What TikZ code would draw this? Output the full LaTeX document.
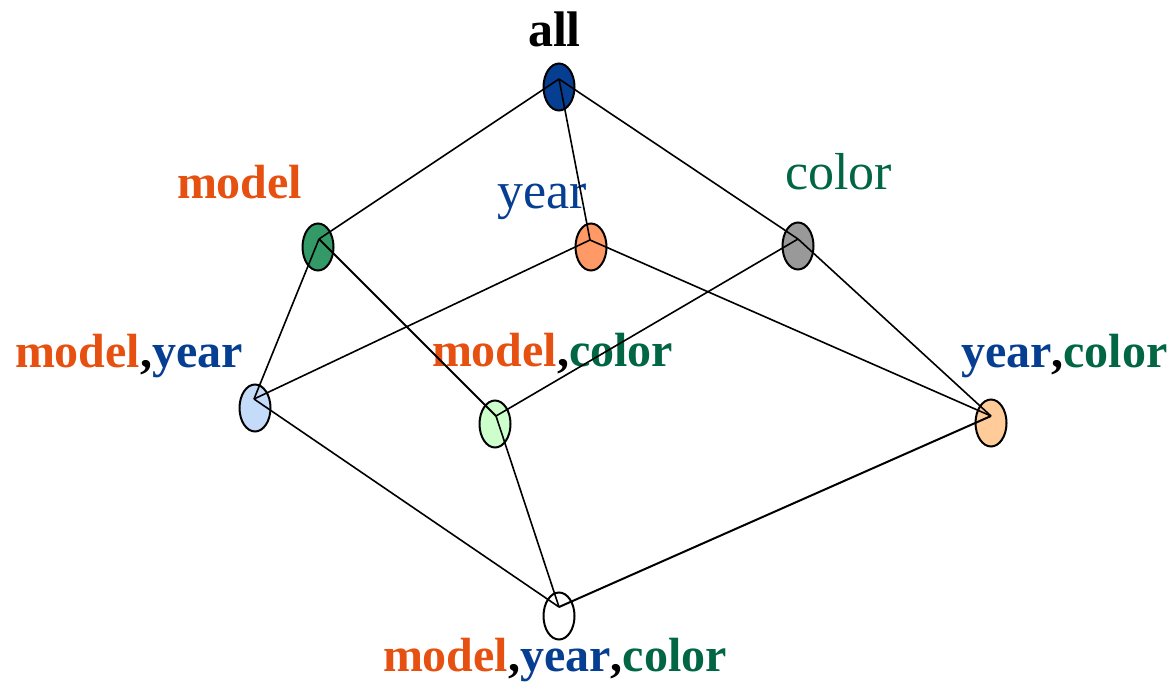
\documentclass[tikz,border=0pt]{standalone}
\usepackage{fontspec}
\setmainfont{Liberation Serif}
\usetikzlibrary{shapes.geometric}
\definecolor{txtorange}{HTML}{E65010}
\definecolor{txtblue}{HTML}{063E91}
\definecolor{txtgreen}{HTML}{006644}
\definecolor{fillall}{HTML}{063E91}
\definecolor{fillmodel}{HTML}{339966}
\definecolor{fillyear}{HTML}{FF9966}
\definecolor{fillcolor}{HTML}{999999}
\definecolor{fillmy}{HTML}{C5DBFA}
\definecolor{fillmc}{HTML}{CCFFCC}
\definecolor{fillyc}{HTML}{FFCC99}
\begin{document}
\begin{tikzpicture}[x=1pt,y=-1pt,
  cube/.style={ellipse,draw=black,line width=2pt,inner sep=0pt,
    minimum width=31pt,minimum height=47pt},
  lbl/.style={anchor=base west,inner sep=0pt,outer sep=0pt},
  bigb/.style={font=\fontsize{48}{48}\selectfont\bfseries},
  bigr/.style={font=\fontsize{52}{52}\selectfont},
  edge/.style={line width=1.6pt,black}]
\useasboundingbox (0,0) rectangle (1169,685);

% cuboid lattice nodes
\node[cube,fill=fillall]   (all) at (559,87) {};
\node[cube,fill=fillmodel] (m)   at (318,247) {};
\node[cube,fill=fillyear]  (y)   at (591,247) {};
\node[cube,fill=fillcolor] (c)   at (798,246) {};
\node[cube,fill=fillmy]    (my)  at (255,408) {};
\node[cube,fill=fillmc]    (mc)  at (495,424) {};
\node[cube,fill=fillyc]    (yc)  at (991,423) {};
\node[cube,fill=white]     (myc) at (559,616) {};

% meeting points of the edges inside each node
\coordinate (allj) at (559,79);
\coordinate (mj)   at (319,239);
\coordinate (yj)   at (590,240);
\coordinate (cj)   at (798,239);
\coordinate (myj)  at (254,399);
\coordinate (mcj)  at (496,416);
\coordinate (ycj)  at (991,416);
\coordinate (mycj) at (559,607);

% labels
\node[lbl,font=\fontsize{50}{50}\selectfont\bfseries] (tall) at (528,47) {all};
\node[lbl,bigb,text=txtorange] (tm) at (177,198) {model};
\node[lbl,bigr,text=txtblue] (ty) at (497,208) {year};
\node[lbl,bigr,text=txtgreen] (tc) at (785,189) {color};
\node[lbl,bigb] (tmy) at (15,367)
  {\textcolor{txtorange}{model},\textcolor{txtblue}{year}};
\node[lbl,bigb] (tmc) at (432,366)
  {\textcolor{txtorange}{model},\textcolor{txtgreen}{color}};
\node[lbl,bigb] (tyc) at (961,367)
  {\textcolor{txtblue}{year},\textcolor{txtgreen}{color}};
\node[lbl,bigb] (tmyc) at (383,671)
  {\textcolor{txtorange}{model},\textcolor{txtblue}{year},\textcolor{txtgreen}{color}};

% lattice edges
\draw[edge] (allj) -- (mj);
\draw[edge] (allj) -- (yj);
\draw[edge] (allj) -- (cj);
\draw[edge] (mj) -- (myj);
\draw[edge,line width=2pt] (mj) -- (mcj);
\draw[edge] (yj) -- (myj);
\draw[edge] (yj) -- (ycj);
\draw[edge] (cj) -- (mcj);
\draw[edge] (cj) -- (ycj);
\draw[edge] (myj) -- (mycj);
\draw[edge] (mcj) -- (mycj);
\draw[edge,line width=2pt] (ycj) -- (mycj);
\end{tikzpicture}
\end{document}
